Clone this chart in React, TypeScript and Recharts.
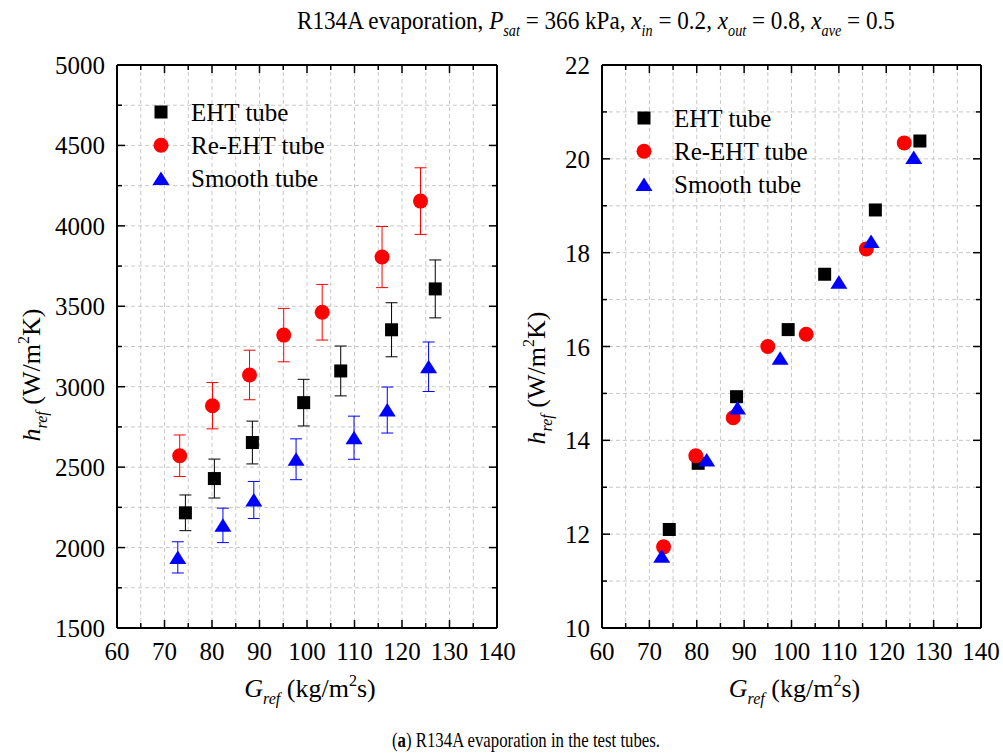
import React from "react";
import { ScatterChart, Scatter, XAxis, YAxis, CartesianGrid, ErrorBar, Legend, Label } from "recharts";

const FONT = "Liberation Serif, Times New Roman, serif";

// mass flux G_ref (kg/m2s), shared axis ticks
const xTicks = [60, 65, 70, 75, 80, 85, 90, 95, 100, 105, 110, 115, 120, 125, 130, 135, 140];

// left panel: heat transfer coefficient h_ref (W/m2K) with uncertainty
const leftYTicks = [1500, 1750, 2000, 2250, 2500, 2750, 3000, 3250, 3500, 3750, 4000, 4250, 4500, 4750, 5000];
const ehtG = [74.4, 80.5, 88.5, 99.3, 107.1, 117.8, 127.0];
const ehtH = [2216, 2429, 2653, 2901, 3098, 3354, 3608];
const ehtErr = [111, 121, 133, 145, 155, 168, 180];
const reG = [73.2, 80.1, 87.9, 95.1, 103.2, 115.8, 123.9];
const reH = [2571, 2882, 3073, 3321, 3463, 3806, 4154];
const reErr = [129, 144, 154, 166, 173, 190, 207];
const smG = [72.8, 82.3, 88.8, 97.7, 109.9, 116.9, 125.6];
const smH = [1939, 2138, 2296, 2549, 2683, 2855, 3124];
const smErr = [97, 107, 115, 127, 134, 143, 154];

// right panel
const rightYTicks = [10, 11, 12, 13, 14, 15, 16, 17, 18, 19, 20, 21, 22];
const ehtG2 = [74.2, 80.3, 88.4, 99.3, 107.0, 117.7, 127.1];
const ehtH2 = [12.1, 13.51, 14.93, 16.36, 17.54, 18.91, 20.38];
const reG2 = [73.0, 79.8, 87.7, 95.0, 103.1, 115.8, 123.8];
const reH2 = [11.73, 13.67, 14.48, 16.0, 16.26, 18.08, 20.34];
const smG2 = [72.6, 82.1, 88.6, 97.6, 110.0, 116.8, 125.8];
const smH2 = [11.53, 13.58, 14.69, 15.75, 17.37, 18.24, 20.03];

const seriesNames = ["EHT tube", "Re-EHT tube", "Smooth tube"];
const seriesColors = ["#000000", "#ff0000", "#0000ff"];
const seriesShapes = ["square", "circle", "triangle"];

type Pt = { x: number; y: number; err: number };

const toPoints = (g: number[], h: number[], err?: number[]): Pt[] =>
  g.map((x, i) => ({ x, y: h[i], err: err ? err[i] : 0 }));

const leftData = [toPoints(ehtG, ehtH, ehtErr), toPoints(reG, reH, reErr), toPoints(smG, smH, smErr)];
const rightData = [toPoints(ehtG2, ehtH2), toPoints(reG2, reH2), toPoints(smG2, smH2)];

const AXIS = { stroke: "#000", strokeWidth: 2 };

function Marker({ kind, cx, cy, color }: { kind: string; cx: number; cy: number; color: string }) {
  if (kind === "square") return <rect x={cx - 6.5} y={cy - 6.5} width={13} height={13} fill={color} />;
  if (kind === "circle") return <circle cx={cx} cy={cy} r={7.5} fill={color} />;
  return <polygon points={`${cx},${cy - 7} ${cx + 8.5},${cy + 6.5} ${cx - 8.5},${cy + 6.5}`} fill={color} />;
}

// inward ticks on all four sides, labels on bottom/left majors only
function makeTick(side: string, isMajor: (v: number) => boolean, showLabel: boolean) {
  return (props: any) => {
    const { x, y, payload } = props;
    const v = payload.value;
    const len = isMajor(v) ? 8 : 5;
    let line;
    if (side === "bottom") line = <line x1={x} x2={x} y1={y} y2={y - len} />;
    else if (side === "top") line = <line x1={x} x2={x} y1={y} y2={y + len} />;
    else if (side === "left") line = <line x1={x} x2={x + len} y1={y} y2={y} />;
    else line = <line x1={x} x2={x - len} y1={y} y2={y} />;
    let label = null;
    if (showLabel && isMajor(v)) {
      label =
        side === "bottom" ? (
          <text x={x} y={y + 32} textAnchor="middle" fontSize={25} fontFamily={FONT} fill="#000">{v}</text>
        ) : (
          <text x={x - 12} y={y + 9} textAnchor="end" fontSize={25} fontFamily={FONT} fill="#000">{v}</text>
        );
    }
    return (
      <g>
        <g stroke="#000" strokeWidth={1.5}>{line}</g>
        {label}
      </g>
    );
  };
}

function XTitle({ x, y }: { x: number; y: number }) {
  return (
    <text x={x} y={y} textAnchor="middle" fontSize={26} fontFamily={FONT} fill="#000">
      <tspan fontStyle="italic">G</tspan>
      <tspan fontStyle="italic" fontSize={16} dy={7}>ref</tspan>
      <tspan dy={-7}>{" (kg/m"}</tspan>
      <tspan fontSize={16} dy={-11}>2</tspan>
      <tspan dy={11}>s)</tspan>
    </text>
  );
}

function YTitle({ x, y }: { x: number; y: number }) {
  return (
    <text transform={`translate(${x},${y}) rotate(-90)`} textAnchor="middle" fontSize={26} fontFamily={FONT} fill="#000">
      <tspan fontStyle="italic">h</tspan>
      <tspan fontStyle="italic" fontSize={16} dy={7}>ref</tspan>
      <tspan dy={-7}>{" (W/m"}</tspan>
      <tspan fontSize={16} dy={-11}>2</tspan>
      <tspan dy={11}>K)</tspan>
    </text>
  );
}

function LegendBox() {
  return (
    <svg width={240} height={100} style={{ display: "block", overflow: "visible" }}>
      {seriesNames.map((name, i) => (
        <g key={name}>
          <Marker kind={seriesShapes[i]} cx={12} cy={16 + i * 33.3} color={seriesColors[i]} />
          <text x={42} y={16 + i * 33.3} dominantBaseline="central" fontSize={25} fontFamily={FONT} fill="#000">
            {name}
          </text>
        </g>
      ))}
    </svg>
  );
}

interface PanelProps {
  width: number;
  left: number;
  right: number;
  data: Pt[][];
  yDomain: [number, number];
  yTicks: number[];
  yMajor: number;
  withErrors: boolean;
  legendAt: [number, number];
  yTitleAt: [number, number];
}

// plot box spans y 65..628; each axis takes 1px of the margin
function Panel({ width, left, right, data, yDomain, yTicks, yMajor, withErrors, legendAt, yTitleAt }: PanelProps) {
  const isXMajor = (v: number) => v % 10 === 0;
  const isYMajor = (v: number) => Math.abs(v % yMajor) < 1e-9;
  const xMid = (left + (width - right)) / 2 + 3;
  return (
    <ScatterChart width={width} height={755} margin={{ top: 64, right: right - 1, bottom: 126, left: left - 1 }}>
      <CartesianGrid stroke="#c8c8c8" strokeDasharray="4 3" strokeWidth={1} />
      <XAxis
        type="number" dataKey="x" domain={[60, 140]} ticks={xTicks} interval={0} allowDataOverflow
        height={1} tickSize={0} tickMargin={0} tickLine={false} axisLine={AXIS}
        tick={makeTick("bottom", isXMajor, true)}
      >
        <Label content={() => <XTitle x={xMid} y={697} />} />
      </XAxis>
      <XAxis
        xAxisId="top" orientation="top" type="number" dataKey="x" domain={[60, 140]} ticks={xTicks} interval={0}
        allowDataOverflow height={1} tickSize={0} tickMargin={0} tickLine={false} axisLine={AXIS}
        tick={makeTick("top", isXMajor, false)}
      />
      <YAxis
        type="number" dataKey="y" domain={yDomain} ticks={yTicks} interval={0} allowDataOverflow
        width={1} tickSize={0} tickMargin={0} tickLine={false} axisLine={AXIS}
        tick={makeTick("left", isYMajor, true)}
      >
        <Label content={() => <YTitle x={yTitleAt[0]} y={yTitleAt[1]} />} />
      </YAxis>
      <YAxis
        yAxisId="right" orientation="right" type="number" dataKey="y" domain={yDomain} ticks={yTicks} interval={0}
        allowDataOverflow width={1} tickSize={0} tickMargin={0} tickLine={false} axisLine={AXIS}
        tick={makeTick("right", isYMajor, false)}
      />
      {data.map((pts, i) => (
        <Scatter
          key={seriesNames[i]}
          name={seriesNames[i]}
          data={pts}
          fill={seriesColors[i]}
          isAnimationActive={false}
          shape={(p: any) => <Marker kind={seriesShapes[i]} cx={p.cx} cy={p.cy} color={seriesColors[i]} />}
        >
          {withErrors && (
            <ErrorBar dataKey="err" direction="y" width={6} stroke={seriesColors[i]} strokeWidth={1} isAnimationActive={false} />
          )}
        </Scatter>
      ))}
      <Legend
        layout="vertical"
        align="center"
        verticalAlign="middle"
        wrapperStyle={{ left: legendAt[0], top: legendAt[1], width: 240, height: 100 }}
        content={() => <LegendBox />}
      />
    </ScatterChart>
  );
}

export default function App() {
  return (
    <div style={{ position: "absolute", left: 0, top: 0, width: 1003, height: 755, background: "#fff", overflow: "hidden" }}>
      <div style={{ position: "absolute", left: 0, top: 0 }}>
        <Panel
          width={540} left={117} right={43} data={leftData} yDomain={[1500, 5000]} yTicks={leftYTicks} yMajor={500}
          withErrors legendAt={[149, 96]} yTitleAt={[40, 375]}
        />
      </div>
      <div style={{ position: "absolute", left: 500, top: 0 }}>
        <Panel
          width={503} left={102} right={22} data={rightData} yDomain={[10, 22]} yTicks={rightYTicks} yMajor={2}
          withErrors={false} legendAt={[132, 102]} yTitleAt={[45, 378]}
        />
      </div>
      <svg width={1003} height={755} style={{ position: "absolute", left: 0, top: 0, pointerEvents: "none" }}>
        {/* figure title, slightly condensed like the source typesetting */}
        <g transform="translate(297,29) scale(0.89,1)">
          <text x={0} y={0} fontSize={26} fontFamily={FONT} fill="#000">
            {"R134A evaporation, "}
            <tspan fontStyle="italic">P</tspan>
            <tspan fontStyle="italic" fontSize={16} dy={7}>sat</tspan>
            <tspan dy={-7}>{" = 366 kPa, "}</tspan>
            <tspan fontStyle="italic">x</tspan>
            <tspan fontStyle="italic" fontSize={16} dy={7}>in</tspan>
            <tspan dy={-7}>{" = 0.2, "}</tspan>
            <tspan fontStyle="italic">x</tspan>
            <tspan fontStyle="italic" fontSize={16} dy={7}>out</tspan>
            <tspan dy={-7}>{" = 0.8, "}</tspan>
            <tspan fontStyle="italic">x</tspan>
            <tspan fontStyle="italic" fontSize={16} dy={7}>ave</tspan>
            <tspan dy={-7}>{" = 0.5"}</tspan>
          </text>
        </g>
        {/* panel caption */}
        <g transform="translate(526,747) scale(0.84,1)">
          <text x={0} y={0} textAnchor="middle" fontSize={20} fontFamily={FONT} fill="#000">
            {"("}
            <tspan fontWeight="bold">a</tspan>
            {") R134A evaporation in the test tubes."}
          </text>
        </g>
      </svg>
    </div>
  );
}
